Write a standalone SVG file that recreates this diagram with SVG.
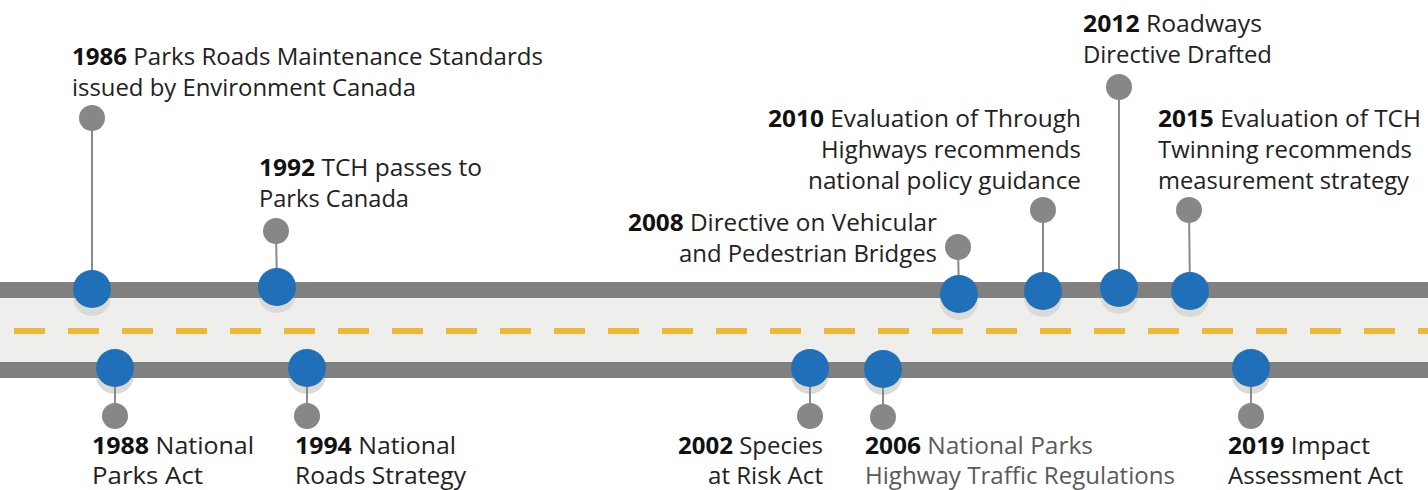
<svg xmlns="http://www.w3.org/2000/svg" width="1428" height="490" viewBox="0 0 1428 490">
<style>
  text { font-family: "Open Sans", "Noto Sans", "DejaVu Sans", sans-serif; font-size: 23px; fill: #222222; }
  .y { font-weight: 700; fill: #111111; }
  .dim { fill: #5a5a5a; }
  .band { fill: #808080; }
  .road { fill: #eeeeec; }
  .dash { stroke: #efb733; stroke-width: 6; stroke-dasharray: 31 23; fill: none; }
  .stem { stroke: #8a8a8a; stroke-width: 2; fill: none; }
  .dot { fill: #878787; }
  .shadow { fill: #dadad6; }
  .pin { fill: #1f70b8; }
</style>
<rect x="0" y="0" width="1428" height="490" fill="#ffffff"/>
<g id="road">
  <rect class="road" x="0" y="298" width="1428" height="64"/>
  <g id="shadows">
    <circle class="shadow" cx="92" cy="297" r="19"/>
    <circle class="shadow" cx="277" cy="294" r="19"/>
    <circle class="shadow" cx="959" cy="301" r="19"/>
    <circle class="shadow" cx="1043" cy="298" r="19"/>
    <circle class="shadow" cx="1119" cy="295" r="19"/>
    <circle class="shadow" cx="1190" cy="298" r="19"/>
    <circle class="shadow" cx="115" cy="375" r="19"/>
    <circle class="shadow" cx="307" cy="375" r="19"/>
    <circle class="shadow" cx="810" cy="375" r="19"/>
    <circle class="shadow" cx="883" cy="376" r="19"/>
    <circle class="shadow" cx="1251" cy="375" r="19"/>
  </g>
  <rect class="band" x="0" y="282" width="1428" height="16"/>
  <rect class="band" x="0" y="362" width="1428" height="16"/>
  <line class="dash" x1="14" y1="331" x2="1428" y2="331"/>
</g>
<g id="connectors">
  <line class="stem" x1="92" y1="118" x2="92" y2="289"/>
  <line class="stem" x1="276" y1="231" x2="277" y2="287"/>
  <line class="stem" x1="958" y1="247" x2="959" y2="294"/>
  <line class="stem" x1="1043" y1="210" x2="1043" y2="291"/>
  <line class="stem" x1="1119" y1="87" x2="1119" y2="288"/>
  <line class="stem" x1="1189" y1="210" x2="1190" y2="291"/>
  <line class="stem" x1="115" y1="368" x2="115" y2="416"/>
  <line class="stem" x1="307" y1="368" x2="307" y2="416"/>
  <line class="stem" x1="810" y1="368" x2="810" y2="416"/>
  <line class="stem" x1="883" y1="369" x2="883" y2="417"/>
  <line class="stem" x1="1251" y1="368" x2="1251" y2="416"/>
</g>
<g id="n1986">
  <circle class="dot" cx="92" cy="118" r="13"/>
  <circle class="pin" cx="92" cy="289" r="19"/>
  <text x="72" y="65" textLength="471" lengthAdjust="spacingAndGlyphs"><tspan class="y">1986</tspan> Parks Roads Maintenance Standards</text>
  <text x="72" y="96" textLength="344" lengthAdjust="spacingAndGlyphs">issued by Environment Canada</text>
</g>
<g id="n1988">
  <circle class="pin" cx="115" cy="368" r="19"/>
  <circle class="dot" cx="115" cy="416" r="13"/>
  <text x="92" y="454" textLength="162" lengthAdjust="spacingAndGlyphs"><tspan class="y">1988</tspan> National</text>
  <text x="92" y="484" textLength="111" lengthAdjust="spacingAndGlyphs">Parks Act</text>
</g>
<g id="n1992">
  <circle class="dot" cx="276" cy="231" r="13"/>
  <circle class="pin" cx="277" cy="287" r="19"/>
  <text x="259" y="176" textLength="223" lengthAdjust="spacingAndGlyphs"><tspan class="y">1992</tspan> TCH passes to</text>
  <text x="259" y="207" textLength="150" lengthAdjust="spacingAndGlyphs">Parks Canada</text>
</g>
<g id="n1994">
  <circle class="pin" cx="307" cy="368" r="19"/>
  <circle class="dot" cx="307" cy="416" r="13"/>
  <text x="295" y="454" textLength="161" lengthAdjust="spacingAndGlyphs"><tspan class="y">1994</tspan> National</text>
  <text x="295" y="484" textLength="171" lengthAdjust="spacingAndGlyphs">Roads Strategy</text>
</g>
<g id="n2002">
  <circle class="pin" cx="810" cy="368" r="19"/>
  <circle class="dot" cx="810" cy="416" r="13"/>
  <text x="823" y="454" text-anchor="end" textLength="145" lengthAdjust="spacingAndGlyphs"><tspan class="y">2002</tspan> Species</text>
  <text x="823" y="484" text-anchor="end" textLength="115" lengthAdjust="spacingAndGlyphs">at Risk Act</text>
</g>
<g id="n2006">
  <circle class="pin" cx="883" cy="369" r="19"/>
  <circle class="dot" cx="883" cy="417" r="13"/>
  <text x="865" y="454" textLength="228" lengthAdjust="spacingAndGlyphs"><tspan class="y">2006</tspan><tspan class="dim"> National Parks</tspan></text>
  <text class="dim" x="865" y="484" textLength="310" lengthAdjust="spacingAndGlyphs">Highway Traffic Regulations</text>
</g>
<g id="n2008">
  <circle class="dot" cx="958" cy="247" r="13"/>
  <circle class="pin" cx="959" cy="294" r="19"/>
  <text x="937" y="231" text-anchor="end" textLength="309" lengthAdjust="spacingAndGlyphs"><tspan class="y">2008</tspan> Directive on Vehicular</text>
  <text x="937" y="262" text-anchor="end" textLength="258" lengthAdjust="spacingAndGlyphs">and Pedestrian Bridges</text>
</g>
<g id="n2010">
  <circle class="dot" cx="1043" cy="210" r="13"/>
  <circle class="pin" cx="1043" cy="291" r="19"/>
  <text x="1081" y="127" text-anchor="end" textLength="313" lengthAdjust="spacingAndGlyphs"><tspan class="y">2010</tspan> Evaluation of Through</text>
  <text x="1081" y="158" text-anchor="end" textLength="260" lengthAdjust="spacingAndGlyphs">Highways recommends</text>
  <text x="1081" y="189" text-anchor="end" textLength="273" lengthAdjust="spacingAndGlyphs">national policy guidance</text>
</g>
<g id="n2012">
  <circle class="dot" cx="1119" cy="87" r="13"/>
  <circle class="pin" cx="1119" cy="288" r="19"/>
  <text x="1083" y="32" textLength="179" lengthAdjust="spacingAndGlyphs"><tspan class="y">2012</tspan> Roadways</text>
  <text x="1083" y="63" textLength="189" lengthAdjust="spacingAndGlyphs">Directive Drafted</text>
</g>
<g id="n2015">
  <circle class="dot" cx="1189" cy="210" r="13"/>
  <circle class="pin" cx="1190" cy="291" r="19"/>
  <text x="1158" y="127" textLength="263" lengthAdjust="spacingAndGlyphs"><tspan class="y">2015</tspan> Evaluation of TCH</text>
  <text x="1158" y="158" textLength="254" lengthAdjust="spacingAndGlyphs">Twinning recommends</text>
  <text x="1158" y="189" textLength="251" lengthAdjust="spacingAndGlyphs">measurement strategy</text>
</g>
<g id="n2019">
  <circle class="pin" cx="1251" cy="368" r="19"/>
  <circle class="dot" cx="1251" cy="416" r="13"/>
  <text x="1228" y="454" textLength="142" lengthAdjust="spacingAndGlyphs"><tspan class="y">2019</tspan> Impact</text>
  <text x="1228" y="484" textLength="175" lengthAdjust="spacingAndGlyphs">Assessment Act</text>
</g>
</svg>
